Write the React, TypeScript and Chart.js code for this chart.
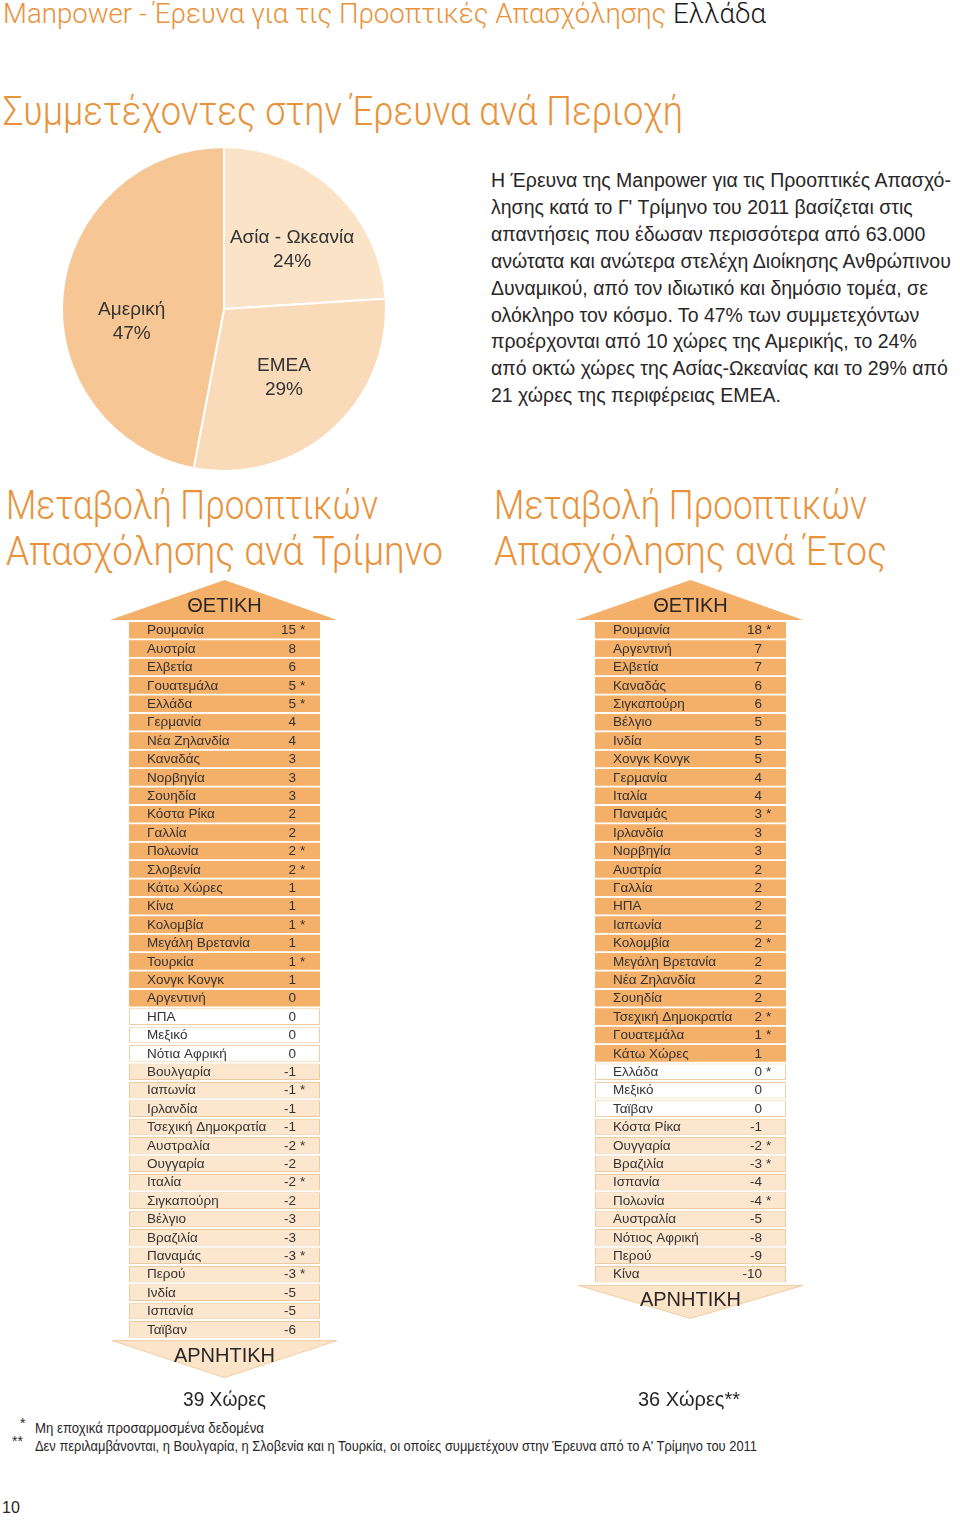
import React, { useEffect, useLayoutEffect, useRef } from "react";
import { Chart, registerables } from "chart.js";

Chart.register(...registerables);

// ---------- DATA ----------
const regionLabels = ["Ασία - Ωκεανία", "EMEA", "Αμερική"];
const regionShares = [24, 29, 47];

const qCountries = [
  "Ρουμανία", "Αυστρία", "Ελβετία", "Γουατεμάλα", "Ελλάδα", "Γερμανία", "Νέα Ζηλανδία",
  "Καναδάς", "Νορβηγία", "Σουηδία", "Κόστα Ρίκα", "Γαλλία", "Πολωνία", "Σλοβενία",
  "Κάτω Χώρες", "Κίνα", "Κολομβία", "Μεγάλη Βρετανία", "Τουρκία", "Χονγκ Κονγκ",
  "Αργεντινή", "ΗΠΑ", "Μεξικό", "Νότια Αφρική", "Βουλγαρία", "Ιαπωνία", "Ιρλανδία",
  "Τσεχική Δημοκρατία", "Αυστραλία", "Ουγγαρία", "Ιταλία", "Σιγκαπούρη", "Βέλγιο",
  "Βραζιλία", "Παναμάς", "Περού", "Ινδία", "Ισπανία", "Ταϊβαν",
];
const qValues = [
  15, 8, 6, 5, 5, 4, 4, 3, 3, 3, 2, 2, 2, 2, 1, 1, 1, 1, 1, 1,
  0, 0, 0, 0, -1, -1, -1, -1, -2, -2, -2, -2, -3, -3, -3, -3, -5, -5, -6,
];
const qUnadjusted = [
  1, 0, 0, 1, 1, 0, 0, 0, 0, 0, 0, 0, 1, 1, 0, 0, 1, 0, 1, 0,
  0, 0, 0, 0, 0, 1, 0, 0, 1, 0, 1, 0, 0, 0, 1, 1, 0, 0, 0,
];
const qPositiveRows = 21; // rows shaded as positive (Αργεντινή rounds to 0)

const yCountries = [
  "Ρουμανία", "Αργεντινή", "Ελβετία", "Καναδάς", "Σιγκαπούρη", "Βέλγιο", "Ινδία",
  "Χονγκ Κονγκ", "Γερμανία", "Ιταλία", "Παναμάς", "Ιρλανδία", "Νορβηγία", "Αυστρία",
  "Γαλλία", "ΗΠΑ", "Ιαπωνία", "Κολομβία", "Μεγάλη Βρετανία", "Νέα Ζηλανδία", "Σουηδία",
  "Τσεχική Δημοκρατία", "Γουατεμάλα", "Κάτω Χώρες", "Ελλάδα", "Μεξικό", "Ταϊβαν",
  "Κόστα Ρίκα", "Ουγγαρία", "Βραζιλία", "Ισπανία", "Πολωνία", "Αυστραλία",
  "Νότιος Αφρική", "Περού", "Κίνα",
];
const yValues = [
  18, 7, 7, 6, 6, 5, 5, 5, 4, 4, 3, 3, 3, 2, 2, 2, 2, 2, 2, 2, 2, 2, 1, 1,
  0, 0, 0, -1, -2, -3, -4, -4, -5, -8, -9, -10,
];
const yUnadjusted = [
  1, 0, 0, 0, 0, 0, 0, 0, 0, 0, 1, 0, 0, 0, 0, 0, 0, 1, 0, 0, 0, 1, 1, 0,
  1, 0, 0, 0, 1, 1, 0, 1, 0, 0, 0, 0,
];
const yPositiveRows = 24;

// ---------- STYLE ----------
const ORANGE = "#F4AF69";
const NEG_FILL = "#FCE6CD";
const NEG_BORDER = "#EDCBA2";
const ZERO_BORDER = "#F2CDA3";
const TITLE = "#E8923A";
const TEXT = "#2A2627";
const SANS = "'Liberation Sans', Arial, Helvetica, sans-serif";
const LIGHT = "Roboto, 'Liberation Sans', sans-serif";
const PIE_LABEL_SHIFT = [
  [6, 7],
  [0, 1],
  [-2, 21],
];

function toneOf(values: number[], positiveRows: number) {
  return values.map((v, i) => (i < positiveRows ? "pos" : v < 0 ? "neg" : "zero"));
}

function PieChart() {
  const ref = useRef<HTMLCanvasElement>(null);
  useEffect(() => {
    const labelPlugin = {
      id: "pieLabels",
      afterDatasetsDraw(chart: any) {
        const ctx = chart.ctx;
        const meta = chart.getDatasetMeta(0);
        ctx.save();
        ctx.fillStyle = "#333";
        ctx.font = `19px ${SANS}`;
        ctx.textAlign = "center";
        ctx.textBaseline = "middle";
        meta.data.forEach((arc: any, i: number) => {
          const p = arc.getProps(["x", "y", "startAngle", "endAngle", "outerRadius"], true);
          const mid = (p.startAngle + p.endAngle) / 2;
          const r = p.outerRadius * 0.56;
          const x = p.x + Math.cos(mid) * r + PIE_LABEL_SHIFT[i][0];
          const y = p.y + Math.sin(mid) * r + PIE_LABEL_SHIFT[i][1];
          ctx.fillText(regionLabels[i], x, y - 12);
          ctx.fillText(regionShares[i] + "%", x, y + 12);
        });
        ctx.restore();
      },
    };
    const chart = new Chart(ref.current!, {
      type: "pie",
      data: {
        labels: regionLabels,
        datasets: [
          {
            data: regionShares,
            backgroundColor: ["#FBE3C8", "#FADBB9", "#F6C795"],
            borderColor: "#ffffff",
            borderWidth: 2,
          },
        ],
      },
      options: {
        responsive: false,
        animation: false,
        layout: { padding: 2 },
        plugins: { legend: { display: false }, tooltip: { enabled: false } },
      },
      plugins: [labelPlugin],
    });
    return () => chart.destroy();
  }, []);
  return (
    <canvas
      ref={ref}
      width={330}
      height={330}
      style={{ position: "absolute", left: 59, top: 144, width: 330, height: 330 }}
    />
  );
}

function TableChart(props: {
  countries: string[];
  values: number[];
  stars: number[];
  positiveRows: number;
  left: number;
  top: number;
  width: number;
  height: number;
  padding: { left: number; right: number; top: number; bottom: number };
  arrowDepth: number;
}) {
  const ref = useRef<HTMLCanvasElement>(null);
  useEffect(() => {
    const { countries, values, stars, positiveRows } = props;
    const tones = toneOf(values, positiveRows);
    const tablePlugin = {
      id: "tableDecor",
      beforeDatasetsDraw(chart: any) {
        const ctx = chart.ctx;
        const ca = chart.chartArea;
        const cx = (ca.left + ca.right) / 2;
        ctx.save();
        ctx.fillStyle = ORANGE;
        ctx.beginPath();
        ctx.moveTo(ca.left - 19, ca.top - 1);
        ctx.lineTo(cx, ca.top - 41);
        ctx.lineTo(ca.right + 17, ca.top - 1);
        ctx.closePath();
        ctx.fill();
        ctx.fillStyle = "#FCE4C8";
        ctx.strokeStyle = "#F0CDA5";
        ctx.lineWidth = 1;
        ctx.beginPath();
        ctx.moveTo(ca.left - 17, ca.bottom + 2);
        ctx.lineTo(ca.right + 17, ca.bottom + 2);
        ctx.lineTo(cx, ca.bottom + props.arrowDepth);
        ctx.closePath();
        ctx.fill();
        ctx.stroke();
        ctx.restore();
      },
      afterDatasetsDraw(chart: any) {
        const ctx = chart.ctx;
        const ca = chart.chartArea;
        const yScale = chart.scales.y;
        const cx = (ca.left + ca.right) / 2;
        ctx.save();
        ctx.fillStyle = TEXT;
        ctx.textAlign = "center";
        ctx.textBaseline = "alphabetic";
        ctx.font = `20px ${SANS}`;
        ctx.fillText("ΘΕΤΙΚΗ", cx, ca.top - 9);
        ctx.fillText("ΑΡΝΗΤΙΚΗ", cx, ca.bottom + 23);
        ctx.font = `13.5px ${SANS}`;
        ctx.fillStyle = "#333";
        ctx.textBaseline = "middle";
        countries.forEach((c, i) => {
          const y = yScale.getPixelForValue(i) + 0.5;
          ctx.textAlign = "left";
          ctx.fillText(c, ca.left + 18, y);
          ctx.textAlign = "right";
          ctx.fillText(String(values[i]), ca.right - 24, y);
          if (stars[i]) {
            ctx.textAlign = "left";
            ctx.fillText("*", ca.right - 20, y);
          }
        });
        ctx.restore();
      },
    };
    const chart = new Chart(ref.current!, {
      type: "bar",
      data: {
        labels: countries,
        datasets: [
          {
            data: countries.map(() => 1),
            backgroundColor: tones.map((t) => (t === "pos" ? ORANGE : t === "neg" ? NEG_FILL : "#ffffff")),
            borderColor: tones.map((t) => (t === "pos" ? ORANGE : t === "neg" ? NEG_BORDER : ZERO_BORDER)),
            borderWidth: tones.map((t) => (t === "pos" ? 0 : 1)),
            borderSkipped: false,
            barPercentage: 0.9,
            categoryPercentage: 1,
          },
        ],
      },
      options: {
        indexAxis: "y",
        responsive: false,
        animation: false,
        layout: { padding: props.padding },
        scales: {
          x: { display: false, min: 0, max: 1 },
          y: { display: false },
        },
        plugins: { legend: { display: false }, tooltip: { enabled: false } },
      },
      plugins: [tablePlugin],
    });
    return () => chart.destroy();
  }, []);
  return (
    <canvas
      ref={ref}
      width={props.width}
      height={props.height}
      style={{ position: "absolute", left: props.left, top: props.top, width: props.width, height: props.height }}
    />
  );
}

function Txt(props: {
  x: number;
  base: number;
  size: number;
  children: any;
  style?: any;
  family?: string;
  w?: number;
}) {
  const ref = useRef<HTMLDivElement>(null);
  useLayoutEffect(() => {
    const el = ref.current;
    if (!el || !props.w) return;
    el.style.transform = "none";
    const actual = el.getBoundingClientRect().width;
    if (actual > 0) {
      el.style.transform = `scaleX(${props.w / actual})`;
      el.style.transformOrigin = "left";
    }
  });
  return (
    <div
      ref={ref}
      style={{
        position: "absolute",
        left: props.x,
        top: props.base - 0.845 * props.size,
        fontSize: props.size,
        lineHeight: `${props.size}px`,
        whiteSpace: "nowrap",
        fontFamily: props.family || SANS,
        color: TEXT,
        ...(props.style || {}),
      }}
    >
      {props.children}
    </div>
  );
}

const paragraph = [
  "Η Έρευνα της Manpower για τις Προοπτικές Απασχό-",
  "λησης κατά το Γ' Τρίμηνο του 2011 βασίζεται στις",
  "απαντήσεις που έδωσαν περισσότερα από 63.000",
  "ανώτατα και ανώτερα στελέχη Διοίκησης Ανθρώπινου",
  "Δυναμικού, από τον ιδιωτικό και δημόσιο τομέα, σε",
  "ολόκληρο τον κόσμο. Το 47% των συμμετεχόντων",
  "προέρχονται από 10 χώρες της Αμερικής, το 24%",
  "από οκτώ χώρες της Ασίας-Ωκεανίας και το 29% από",
  "21 χώρες της περιφέρειας EMEA.",
];

export default function App() {
  const titleStyle = { color: TITLE, fontWeight: 300 };
  return (
    <div
      style={{
        position: "absolute",
        left: 0,
        top: 0,
        width: 960,
        height: 1521,
        background: "#ffffff",
        overflow: "hidden",
      }}
    >
      <Txt x={3} base={24} size={27} family={LIGHT} style={titleStyle} w={763}>
        Manpower - Έρευνα για τις Προοπτικές Απασχόλησης <span style={{ color: "#1a1a1a" }}>Ελλάδα</span>
      </Txt>
      <Txt x={3} base={126} size={41} family={LIGHT} style={titleStyle} w={680}>
        Συμμετέχοντες στην Έρευνα ανά Περιοχή
      </Txt>

      <PieChart />

      {paragraph.map((line, i) => (
        <Txt key={i} x={491} base={187.5 + i * 26.9} size={19.5}>
          {line}
        </Txt>
      ))}

      <Txt x={6} base={520} size={40} family={LIGHT} style={titleStyle} w={372}>
        Μεταβολή Προοπτικών
      </Txt>
      <Txt x={6} base={566} size={40} family={LIGHT} style={titleStyle} w={437}>
        Απασχόλησης ανά Τρίμηνο
      </Txt>
      <Txt x={494} base={520} size={40} family={LIGHT} style={titleStyle} w={373}>
        Μεταβολή Προοπτικών
      </Txt>
      <Txt x={494} base={566} size={40} family={LIGHT} style={titleStyle} w={393}>
        Απασχόλησης ανά Έτος
      </Txt>

      <TableChart
        countries={qCountries}
        values={qValues}
        stars={qUnadjusted}
        positiveRows={qPositiveRows}
        left={100}
        top={570}
        width={250}
        height={820}
        padding={{ left: 29, right: 30, top: 51, bottom: 820 - 51 - 39 * 18.4 }}
        arrowDepth={39}
      />
      <TableChart
        countries={yCountries}
        values={yValues}
        stars={yUnadjusted}
        positiveRows={yPositiveRows}
        left={570}
        top={570}
        width={250}
        height={760}
        padding={{ left: 25, right: 34, top: 51, bottom: 760 - 51 - 36 * 18.4 }}
        arrowDepth={35}
      />

      <Txt x={183} base={1406} size={21} w={83}>
        39 Χώρες
      </Txt>
      <Txt x={638} base={1406} size={21} w={102}>
        36 Χώρες**
      </Txt>

      <Txt x={20} base={1428} size={14}>
        *
      </Txt>
      <Txt x={35} base={1433} size={14.5} w={229}>
        Μη εποχικά προσαρμοσμένα δεδομένα
      </Txt>
      <Txt x={12} base={1446} size={14}>
        **
      </Txt>
      <Txt x={35} base={1451} size={14.5} w={722}>
        Δεν περιλαμβάνονται, η Βουλγαρία, η Σλοβενία και η Τουρκία, οι οποίες συμμετέχουν στην Έρευνα από το Α' Τρίμηνο του 2011
      </Txt>

      <Txt x={2} base={1514} size={16}>
        10
      </Txt>
    </div>
  );
}
